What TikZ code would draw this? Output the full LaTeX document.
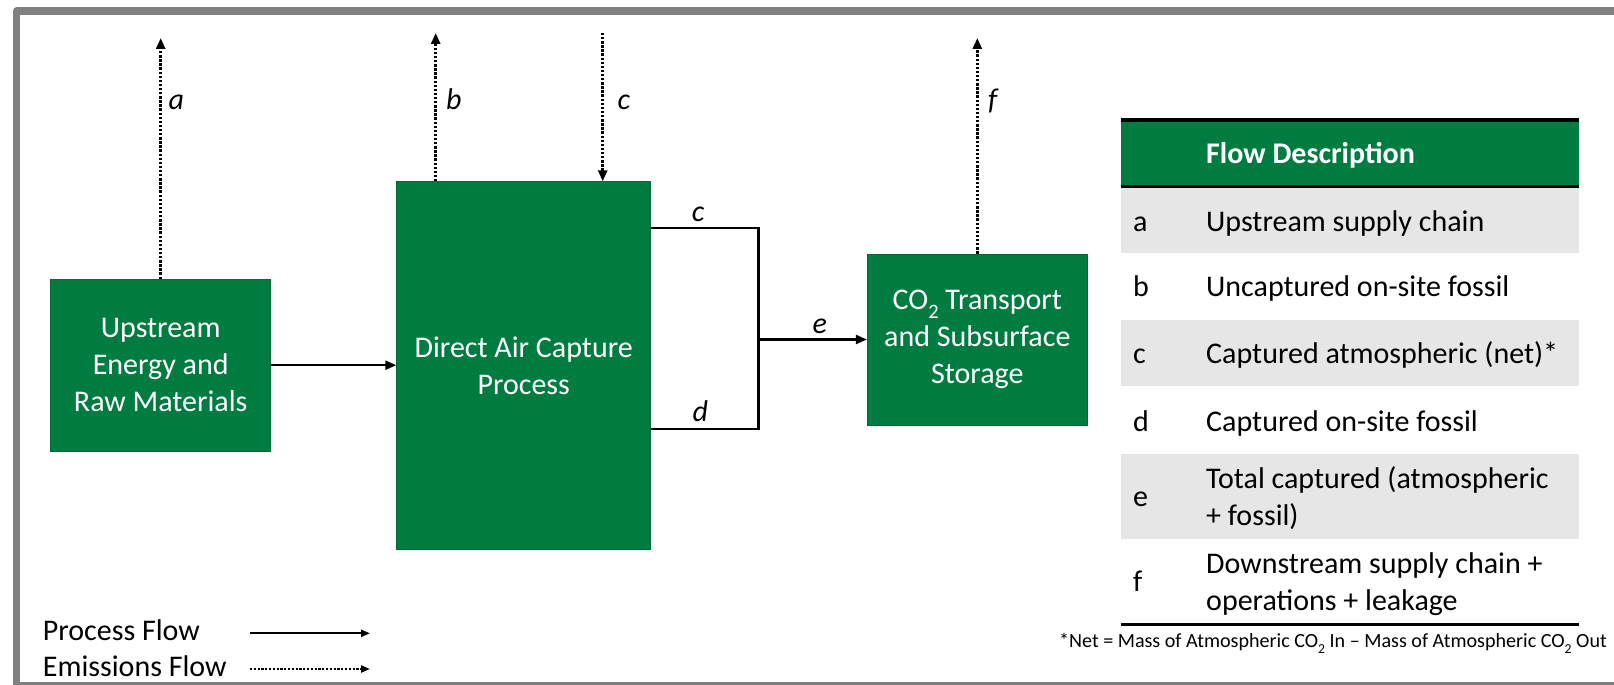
\documentclass[tikz,border=0pt]{standalone}
\usepackage{fontspec}
\setmainfont{Carlito}
\usetikzlibrary{arrows.meta}
\definecolor{dacgreen}{RGB}{0,124,65}
\definecolor{rowgray}{RGB}{231,230,230}
\definecolor{framegray}{RGB}{128,128,128}
\newcommand{\cotwo}{CO\raisebox{-0.28em}{\scalebox{0.68}{2}}}
\begin{document}
\begin{tikzpicture}[x=1pt,y=-1pt,
  gbox/.style={fill=dacgreen, draw=dacgreen!85!black, line width=0.8pt, text=white, align=center, font=\fontsize{30}{37}\selectfont, inner sep=0pt},
  proc/.style={line width=2.2pt, -{Triangle[length=11pt,width=9pt]}},
  emis/.style={line width=2.6pt, dash pattern=on 2.4pt off 1.7pt, -{Triangle[length=11pt,width=9pt]}},
  lbl/.style={font=\fontsize{30}{36}\selectfont\itshape, anchor=base west, inner sep=0pt},
  ttxt/.style={font=\fontsize{30}{36}\selectfont, anchor=base west, inner sep=0pt},
  tline/.style={line width=3.2pt},
]
\useasboundingbox (0,0) rectangle (1614,685);
\fill[white] (0,0) rectangle (1614,685);
% frame
\draw[framegray, line width=7.5pt, line join=round] (1640,11.2) -- (16.4,11.2) -- (16.4,685.4) -- (1640,685.4);

% boxes
\node[gbox, minimum width=220pt, minimum height=171.7pt] (up) at (160.7,365.2) {Upstream\\Energy and\\Raw Materials};
\node[gbox, minimum width=254pt, minimum height=367.6pt] (dac) at (523.7,365.5) {Direct Air Capture\\Process};
\node[gbox, minimum width=220pt, minimum height=171pt] (tss) at (977.3,339.5) {\cotwo{} Transport\\and Subsurface\\Storage};

% emission arrows
\coordinate (atip) at (160.7,38);
\coordinate (btip) at (435.7,33);
\coordinate (cstart) at (602.7,33);
\coordinate (ftip) at (977.3,38);
\draw[emis] (up.north) -- (atip);
\draw[emis] (dac.north -| btip) -- (btip);
\draw[emis] (cstart) -- (dac.north -| cstart);
\draw[emis] (tss.north) -- (ftip);

% process flows
\draw[proc] (up.east) -- (up.east -| dac.west);
\coordinate (cc) at (758.5,228);
\coordinate (dd) at (758.5,429);
\coordinate (jn) at (758.5,339.5);
\draw[line width=2.2pt] (dac.east |- cc) -- (cc) -- (dd) -- (dac.east |- dd);
\draw[proc] (jn) -- (tss.west);

% labels
\node[lbl] (la1) at (168.3,110) {a};
\node[lbl] (lb1) at (446,109) {b};
\node[lbl] (lc1) at (617.3,109) {c};
\node[lbl] (lc2) at (691.7,221.7) {c};
\node[lbl] (le1) at (812.3,333.3) {e};
\node[lbl] (ld1) at (692.3,421.7) {d};
\node[lbl] (lf1) at (988,110) {f};

% table
\fill[dacgreen] (1120.7,120) rectangle (1579.3,186.7);
\fill[rowgray] (1120.7,188.3) rectangle (1579.3,253.3);
\fill[rowgray] (1120.7,320) rectangle (1579.3,386);
\fill[rowgray] (1120.7,454) rectangle (1579.3,539);
\draw[tline] (1120.7,120) -- (1579.3,120);
\draw[tline] (1120.7,186.7) -- (1579.3,186.7);
\draw[tline] (1120.7,624.3) -- (1579.3,624.3);

\node[ttxt, text=white, font=\fontsize{30}{36}\selectfont\bfseries] (hdr) at (1206,163.3) {Flow Description};
\node[ttxt] (ta) at (1133,231) {a};
\node[ttxt] (da) at (1206,231) {Upstream supply chain};
\node[ttxt] (tb) at (1133,296.7) {b};
\node[ttxt] (db) at (1206,296.7) {Uncaptured on-site fossil};
\node[ttxt] (tc) at (1133,363.3) {c};
\node[ttxt] (dc) at (1206,363.3) {Captured atmospheric (net)*};
\node[ttxt] (td) at (1133,431.7) {d};
\node[ttxt] (dd1) at (1206,431.7) {Captured on-site fossil};
\node[ttxt] (te) at (1133,506.7) {e};
\node[ttxt] (de1) at (1206,488.3) {Total captured (atmospheric};
\node[ttxt] (de2) at (1206,525) {+ fossil)};
\node[ttxt] (tf) at (1133,591.7) {f};
\node[ttxt] (df1) at (1206,573.3) {Downstream supply chain +};
\node[ttxt] (df2) at (1206,610) {operations + leakage};

\node[anchor=base east, inner sep=0pt, font=\fontsize{20.1}{23}\selectfont] (fn) at (1607,647.7) {*Net = Mass of Atmospheric \cotwo{} In – Mass of Atmospheric \cotwo{} Out};

% legend
\node[ttxt] (pf) at (42.7,640) {Process Flow};
\node[ttxt] (ef) at (42.7,676.7) {Emissions Flow};
\coordinate (p1) at (250,633.3);
\coordinate (p2) at (370,633.3);
\coordinate (e1) at (250,669);
\coordinate (e2) at (370,669);
\draw[line width=2pt, -{Triangle[length=9pt,width=7pt]}] (p1) -- (p2);
\draw[line width=2.4pt, dash pattern=on 2.2pt off 1.6pt, -{Triangle[length=9pt,width=7pt]}] (e1) -- (e2);
\end{tikzpicture}
\end{document}
